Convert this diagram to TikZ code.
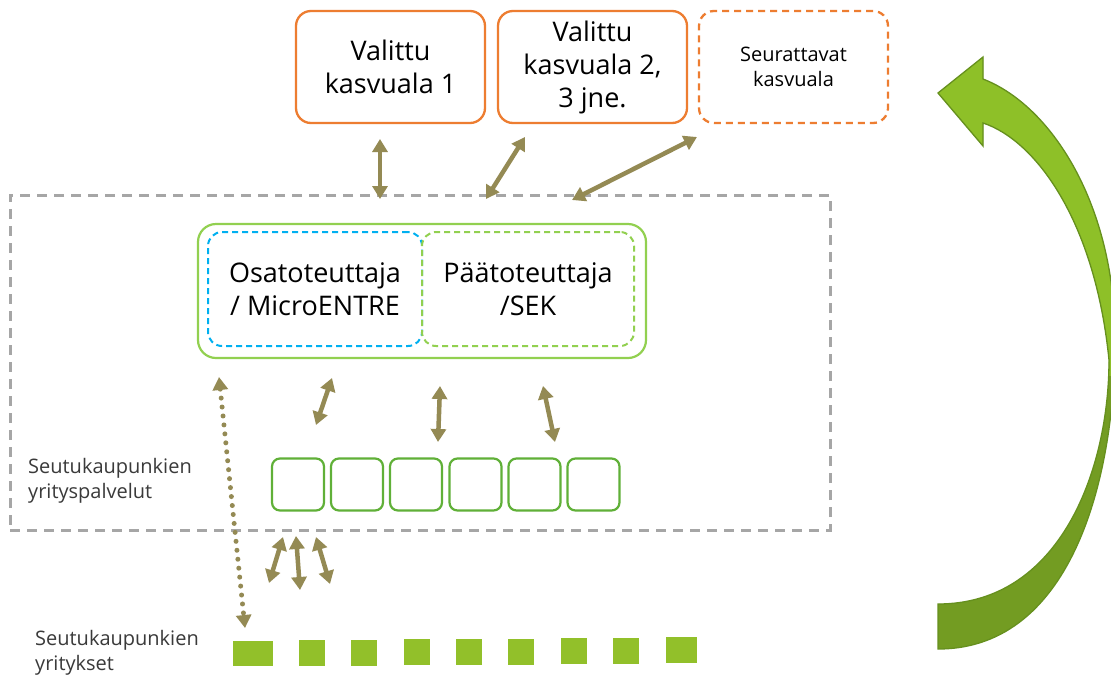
\documentclass[tikz,border=0pt]{standalone}
\usepackage{fontspec}
\setmainfont{Open Sans}
\usetikzlibrary{arrows.meta,calc}
\definecolor{orng}{HTML}{ED7D31}
\definecolor{grayd}{HTML}{A6A6A6}
\definecolor{lime}{HTML}{92D050}
\definecolor{cyanb}{HTML}{00B0F0}
\definecolor{boxgreen}{HTML}{60B038}
\definecolor{olivec}{HTML}{948A54}
\definecolor{sqgreen}{HTML}{92C02A}
\definecolor{arrlight}{HTML}{8EC028}
\definecolor{arrdark}{HTML}{739C22}
\definecolor{arrborder}{HTML}{66901E}
\definecolor{labelgray}{HTML}{3A3A3A}
\tikzset{
  bigtext/.style={font=\fontsize{27}{33}\selectfont, align=center, text=black},
  smalltext/.style={font=\fontsize{20}{25}\selectfont, align=center, text=black},
  sidelabel/.style={font=\fontsize{20}{25}\selectfont, align=left, text=labelgray, anchor=west, inner sep=0pt},
  topbox/.style={draw=orng, line width=2.3pt, rounded corners=15pt, minimum width=189pt, minimum height=112pt, inner sep=0pt},
  topdash/.style={topbox, dash pattern=on 7pt off 5pt},
  innerbox/.style={line width=2pt, rounded corners=14pt, dash pattern=on 6pt off 4pt, minimum width=214pt, minimum height=114pt, inner sep=0pt},
  svcbox/.style={draw=boxgreen, line width=2.2pt, rounded corners=8pt, minimum width=52pt, minimum height=52pt, inner sep=0pt},
  firm/.style={fill=sqgreen, inner sep=0pt},
  link/.style={draw=olivec, line width=4.5pt, {Triangle[length=13pt,width=15pt]}-{Triangle[length=13pt,width=15pt]}},
  dotlink/.style={draw=olivec, line width=5pt, line cap=round, dash pattern=on 0pt off 9pt, {Triangle[length=13pt,width=15pt]}-{Triangle[length=13pt,width=15pt]}},
}
\begin{document}
\begin{tikzpicture}[x=1pt,y=-1pt]
\useasboundingbox (0,0) rectangle (1111,686);
\fill[white] (0,0) rectangle (1111,686);

% top boxes
\node[topbox, bigtext] (top1) at (390.5,67) {Valittu\\kasvuala 1};
\node[topbox, bigtext] (top2) at (592.5,67) {Valittu\\kasvuala 2,\\3 jne.};
\node[topdash, smalltext] (top3) at (793.5,67) {Seurattavat\\kasvuala};

% region
\node[draw=grayd, line width=3pt, dash pattern=on 10pt off 7pt, minimum width=820pt, minimum height=335pt, inner sep=0pt] (region) at (420,362.5) {};
\node[sidelabel] (svclabel) at (28,480.5) {Seutukaupunkien\\yrityspalvelut};

% implementer boxes
\node[draw=lime, line width=2.2pt, rounded corners=18pt, minimum width=448pt, minimum height=134pt, inner sep=0pt] (impl) at (422,291) {};
\node[innerbox, draw=cyanb, bigtext] (osa) at (315,289) {Osatoteuttaja\\/ MicroENTRE};
\node[innerbox, draw=lime, bigtext, minimum width=212pt] (paa) at (528,289) {Päätoteuttaja\\/SEK};

% service boxes
\foreach \i/\x in {1/298,2/357,3/416,4/475.5,5/534.5,6/593.5}{
  \node[svcbox] (s\i) at (\x,484.5) {};
}

% firms
\node[sidelabel] (firmlabel) at (35,652.5) {Seutukaupunkien\\yritykset};
\node[firm, minimum width=40pt, minimum height=25pt] (f1) at (253,653.5) {};
\node[firm, minimum width=26pt, minimum height=26pt] (f2) at (312,653) {};
\node[firm, minimum width=26pt, minimum height=26pt] (f3) at (364,652.5) {};
\node[firm, minimum width=26pt, minimum height=26pt] (f4) at (417,652) {};
\node[firm, minimum width=26pt, minimum height=26pt] (f5) at (469,652) {};
\node[firm, minimum width=26pt, minimum height=26pt] (f6) at (521,651.5) {};
\node[firm, minimum width=26pt, minimum height=26pt] (f7) at (574,651) {};
\node[firm, minimum width=26pt, minimum height=26pt] (f8) at (626,650.5) {};
\node[firm, minimum width=31pt, minimum height=26pt] (f9) at (681,650) {};

% connector end points
\coordinate (a1t) at (380,139);
\coordinate (a1b) at (380,199);
\coordinate (a2t) at (525,137);
\coordinate (a2b) at (486,199);
\coordinate (a3t) at (697,137);
\coordinate (a3b) at (572,200);
\coordinate (m1t) at (332,378);
\coordinate (m1b) at (316,425);
\coordinate (m2t) at (440,386);
\coordinate (m2b) at (438,442);
\coordinate (m3t) at (543,386);
\coordinate (m3b) at (555,442);
\coordinate (dt) at (219,377);
\coordinate (db) at (245,628);
\coordinate (b1t) at (283,537);
\coordinate (b1b) at (269,583);
\coordinate (b2t) at (296,536);
\coordinate (b2b) at (300,590);
\coordinate (b3t) at (316,537);
\coordinate (b3b) at (330,584);

\draw[link] (a1t) -- (a1b);
\draw[link] (a2t) -- (a2b);
\draw[link] (a3t) -- (a3b);
\draw[link] (m1t) -- (m1b);
\draw[link] (m2t) -- (m2b);
\draw[link] (m3t) -- (m3b);
\draw[dotlink] (dt) -- (db);
\draw[link] (b1t) -- (b1b);
\draw[link] (b2t) -- (b2b);
\draw[link] (b3t) -- (b3b);

% big curved arrow
\def\bigarrow{(983,123) -- (983,146) -- (938,93) -- (983,57) -- (983,79) .. controls (1050,105) and (1112,200) .. (1115,330) .. controls (1117,470) and (1075,649) .. (938,649) -- (938,604) .. controls (1060,604) and (1109,470) .. (1109,360) .. controls (1095,220) and (1035,140) .. (983,123) -- cycle}
\begin{scope}
  \clip (0,0) rectangle (1111,686);
  \fill[arrdark] \bigarrow;
  \begin{scope}
    \clip (900,0) rectangle (1150,375);
    \fill[arrlight] \bigarrow;
  \end{scope}
  \draw[arrborder, line width=1.3pt, line join=miter] \bigarrow;
\end{scope}
\end{tikzpicture}
\end{document}
